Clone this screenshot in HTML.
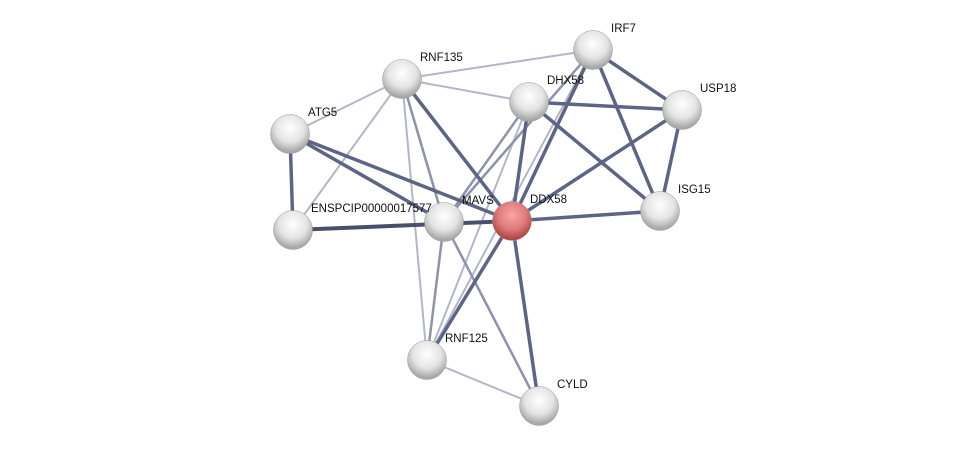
<!DOCTYPE html>
<html><head><style>
html,body{margin:0;padding:0;background:#fff;}
svg{display:block;}
text{font-family:"Liberation Sans",sans-serif;font-size:11.5px;fill:#111;}
</style></head><body>
<svg width="976" height="452" viewBox="0 0 976 452" xmlns="http://www.w3.org/2000/svg">
<defs>
<radialGradient id="g" cx="50%" cy="35%" r="60%">
<stop offset="0" stop-color="#ffffff"/><stop offset="0.6" stop-color="#e4e4e4"/><stop offset="1" stop-color="#a8a8a8"/>
</radialGradient>
<radialGradient id="r" cx="50%" cy="35%" r="60%">
<stop offset="0" stop-color="#f7a5a5"/><stop offset="0.6" stop-color="#e07b7b"/><stop offset="1" stop-color="#b04848"/>
</radialGradient>
</defs>
<g stroke-linecap="round">
<g stroke="#b4b6c8" stroke-width="2">
<line x1="402" y1="79" x2="593" y2="50"/>
<line x1="402" y1="79" x2="529" y2="102"/>
<line x1="402" y1="79" x2="290" y2="134"/>
<line x1="402" y1="79" x2="293" y2="230"/>
<line x1="402" y1="79" x2="427" y2="360"/>
<line x1="427" y1="360" x2="539" y2="406"/>
<line x1="529" y1="102" x2="427" y2="360"/>
<line x1="593" y1="50" x2="427" y2="360"/>
</g>
<g stroke="#8e92aa" stroke-width="2.5">
<line x1="444" y1="222" x2="539" y2="406"/>
<line x1="593" y1="50" x2="444" y2="222"/>
<line x1="529" y1="102" x2="444" y2="222"/>
<line x1="402" y1="79" x2="444" y2="222"/>
<line x1="444" y1="222" x2="427" y2="360"/>
</g>
<g stroke="#5e6584" stroke-width="3.5">
<line x1="593" y1="50" x2="682" y2="110"/>
<line x1="593" y1="50" x2="660" y2="211"/>
<line x1="593" y1="50" x2="512" y2="221"/>
<line x1="682" y1="110" x2="660" y2="211"/>
<line x1="682" y1="110" x2="512" y2="221"/>
<line x1="682" y1="110" x2="529" y2="102"/>
<line x1="529" y1="102" x2="660" y2="211"/>
<line x1="529" y1="102" x2="512" y2="221"/>
<line x1="402" y1="79" x2="512" y2="221"/>
<line x1="290" y1="134" x2="444" y2="222"/>
<line x1="290" y1="134" x2="512" y2="221"/>
<line x1="290" y1="134" x2="293" y2="230"/>
<line x1="512" y1="221" x2="660" y2="211"/>
<line x1="512" y1="221" x2="539" y2="406"/>
<line x1="512" y1="221" x2="427" y2="360"/>
</g>
<g stroke="#48506e" stroke-width="4">
<line x1="293" y1="230" x2="512" y2="221"/>
</g>
</g>
<g stroke="#999" stroke-width="0.5">
<circle cx="593" cy="50" r="19.5" fill="url(#g)"/>
<circle cx="402" cy="79" r="19.5" fill="url(#g)"/>
<circle cx="529" cy="102" r="19.5" fill="url(#g)"/>
<circle cx="682" cy="110" r="19.5" fill="url(#g)"/>
<circle cx="290" cy="134" r="19.5" fill="url(#g)"/>
<circle cx="660" cy="211" r="19.5" fill="url(#g)"/>
<circle cx="444" cy="222" r="19.5" fill="url(#g)"/>
<circle cx="293" cy="230" r="19.5" fill="url(#g)"/>
<circle cx="427" cy="360" r="19.5" fill="url(#g)"/>
<circle cx="539" cy="406" r="19.5" fill="url(#g)"/>
<circle cx="512" cy="221" r="19.5" fill="url(#r)"/>
</g>
<text x="611" y="32">IRF7</text>
<text x="420" y="61">RNF135</text>
<text x="547" y="84">DHX58</text>
<text x="700" y="92">USP18</text>
<text x="308" y="116">ATG5</text>
<text x="678" y="193">ISG15</text>
<text x="462" y="204">MAVS</text>
<text x="530" y="203">DDX58</text>
<text x="311" y="212">ENSPCIP00000017577</text>
<text x="445" y="342">RNF125</text>
<text x="557" y="388">CYLD</text>
</svg>
</body></html>
